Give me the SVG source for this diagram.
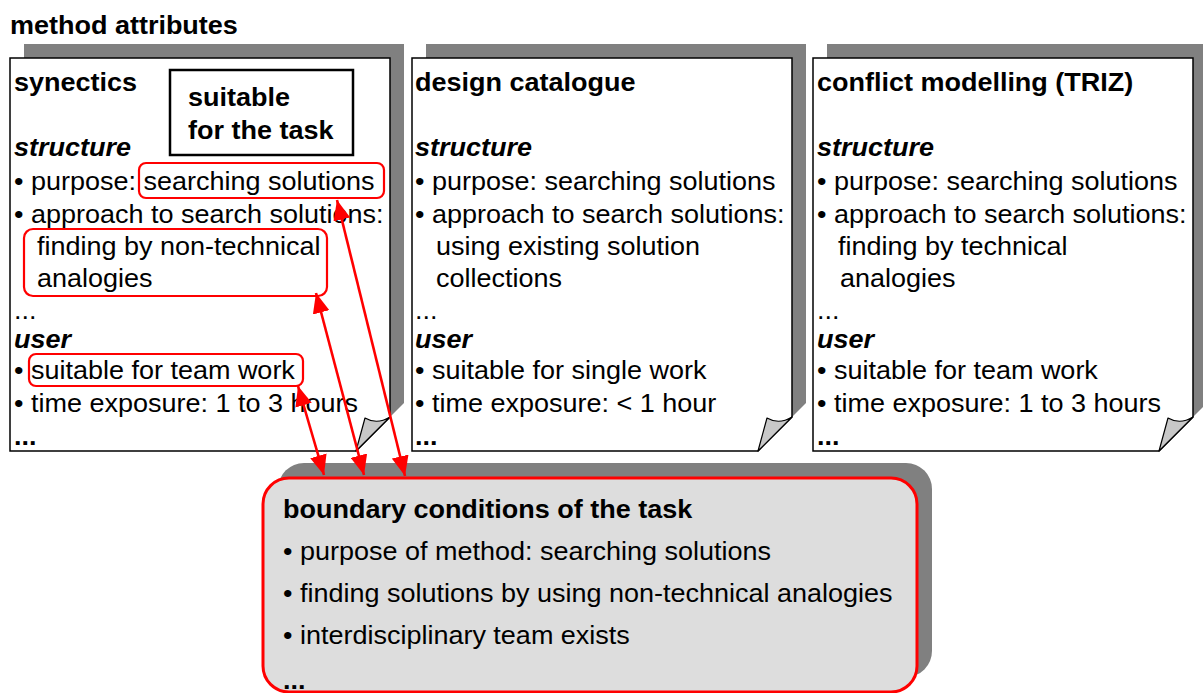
<svg xmlns="http://www.w3.org/2000/svg" width="1203" height="693" viewBox="0 0 1203 693">
  <style>
    text { font-family: "Liberation Sans", Arial, Helvetica, sans-serif; font-size: 25px; fill: #000; }
    .b { font-weight: bold; }
    .bi { font-weight: bold; font-style: italic; }
    .shadow { fill: #808080; }
    .page { fill: #fff; stroke: #000; stroke-width: 1.5; }
    .curl { fill: #c8c8c8; stroke: #000; stroke-width: 1.2; stroke-linejoin: round; }
    .hl { fill: none; stroke: #ff0000; stroke-width: 2.2; }
    .tag { fill: #fff; stroke: #000; stroke-width: 2.5; }
    .link { stroke: #ff0000; stroke-width: 2.6; fill: none; marker-start: url(#ah); marker-end: url(#ah); }
  </style>
  <defs>
    <marker id="ah" viewBox="0 0 20 17" refX="20" refY="8.5" markerWidth="20" markerHeight="17" markerUnits="userSpaceOnUse" orient="auto-start-reverse">
      <path d="M0,0 L20,8.5 L0,17 Z" fill="#ff0000"/>
    </marker>
  </defs>
  <rect width="1203" height="693" fill="#fff"/>

  <text class="b" transform="translate(10,34) scale(1.08,1)">method attributes</text>

  <!-- method card: synectics -->
  <g id="page-synectics">
    <path class="shadow" d="M24,44 H404 V403 L370,437 H24 Z"/>
    <path class="page" d="M10,58 H390 V417 L356,451 H10 Z"/>
    <path class="curl" d="M356,451 L365,418 Q377,425 390,417 Z"/>
    <text class="b" transform="translate(14,91) scale(1.08,1)">synectics</text>
    <text class="bi" transform="translate(14,156) scale(1.08,1)">structure</text>
    <text transform="translate(14,190) scale(1.08,1)">• purpose: searching solutions</text>
    <text transform="translate(14,222.5) scale(1.08,1)">• approach to search solutions:</text>
    <text transform="translate(37,255) scale(1.08,1)">finding by non-technical</text>
    <text transform="translate(37,287) scale(1.08,1)">analogies</text>
    <text transform="translate(14,319) scale(1.08,1)">...</text>
    <text class="bi" transform="translate(14,348) scale(1.08,1)">user</text>
    <text transform="translate(14,379) scale(1.08,1)">• suitable for team work</text>
    <text transform="translate(14,412) scale(1.08,1)">• time exposure: 1 to 3 hours</text>
    <text class="b" transform="translate(14,445) scale(1.08,1)">...</text>
    <rect class="hl" x="139" y="163" width="245" height="35" rx="7"/>
    <rect class="hl" x="24" y="229" width="303" height="67" rx="9"/>
    <rect class="hl" x="29" y="354" width="274" height="32" rx="7"/>
  </g>

  <!-- verdict label on the synectics card -->
  <g id="label-suitable">
    <rect class="tag" x="170" y="70" width="183" height="85"/>
    <text class="b" transform="translate(188,106) scale(1.08,1)">suitable</text>
    <text class="b" transform="translate(188,139) scale(1.08,1)">for the task</text>
  </g>

  <!-- method card: design catalogue -->
  <g id="page-design-catalogue">
    <path class="shadow" d="M426,44 H806 V403 L772,437 H426 Z"/>
    <path class="page" d="M412,58 H792 V417 L758,451 H412 Z"/>
    <path class="curl" d="M758,451 L767,418 Q779,425 792,417 Z"/>
    <text class="b" transform="translate(415,91) scale(1.08,1)">design catalogue</text>
    <text class="bi" transform="translate(415,156) scale(1.08,1)">structure</text>
    <text transform="translate(415,190) scale(1.08,1)">• purpose: searching solutions</text>
    <text transform="translate(415,222.5) scale(1.08,1)">• approach to search solutions:</text>
    <text transform="translate(436,255) scale(1.08,1)">using existing solution</text>
    <text transform="translate(436,287) scale(1.08,1)">collections</text>
    <text transform="translate(415,319) scale(1.08,1)">...</text>
    <text class="bi" transform="translate(415,348) scale(1.08,1)">user</text>
    <text transform="translate(415,379) scale(1.08,1)">• suitable for single work</text>
    <text transform="translate(415,412) scale(1.08,1)">• time exposure: &lt; 1 hour</text>
    <text class="b" transform="translate(415,445) scale(1.08,1)">...</text>
  </g>

  <!-- method card: conflict modelling (TRIZ) -->
  <g id="page-triz">
    <path class="shadow" d="M827,44 H1207 V403 L1173,437 H827 Z"/>
    <path class="page" d="M813,58 H1193 V417 L1159,451 H813 Z"/>
    <path class="curl" d="M1159,451 L1168,418 Q1180,425 1193,417 Z"/>
    <text class="b" transform="translate(817,91) scale(1.08,1)">conflict modelling (TRIZ)</text>
    <text class="bi" transform="translate(817,156) scale(1.08,1)">structure</text>
    <text transform="translate(817,190) scale(1.08,1)">• purpose: searching solutions</text>
    <text transform="translate(817,222.5) scale(1.08,1)">• approach to search solutions:</text>
    <text transform="translate(838,255) scale(1.08,1)">finding by technical</text>
    <text transform="translate(840,287) scale(1.08,1)">analogies</text>
    <text transform="translate(817,319) scale(1.08,1)">...</text>
    <text class="bi" transform="translate(817,348) scale(1.08,1)">user</text>
    <text transform="translate(817,379) scale(1.08,1)">• suitable for team work</text>
    <text transform="translate(817,412) scale(1.08,1)">• time exposure: 1 to 3 hours</text>
    <text class="b" transform="translate(817,445) scale(1.08,1)">...</text>
  </g>

  <!-- task requirements panel -->
  <g id="task-conditions">
    <rect class="shadow" x="278" y="463" width="654" height="214" rx="26"/>
    <rect x="263" y="478" width="654" height="214" rx="26" fill="#dddddd" stroke="#ff0000" stroke-width="3"/>
    <text class="b" transform="translate(283,518) scale(1.08,1)">boundary conditions of the task</text>
    <text transform="translate(283,560) scale(1.08,1)">• purpose of method: searching solutions</text>
    <text transform="translate(283,602) scale(1.08,1)">• finding solutions by using non-technical analogies</text>
    <text transform="translate(283,644) scale(1.08,1)">• interdisciplinary team exists</text>
    <text class="b" transform="translate(283,689) scale(1.08,1)">...</text>
  </g>

  <!-- matches between highlighted attributes and task conditions -->
  <g id="connectors">
    <line class="link" x1="298" y1="386" x2="324" y2="475"/>
    <line class="link" x1="316" y1="293" x2="364" y2="475"/>
    <line class="link" x1="337" y1="200" x2="405" y2="476"/>
  </g>
</svg>
